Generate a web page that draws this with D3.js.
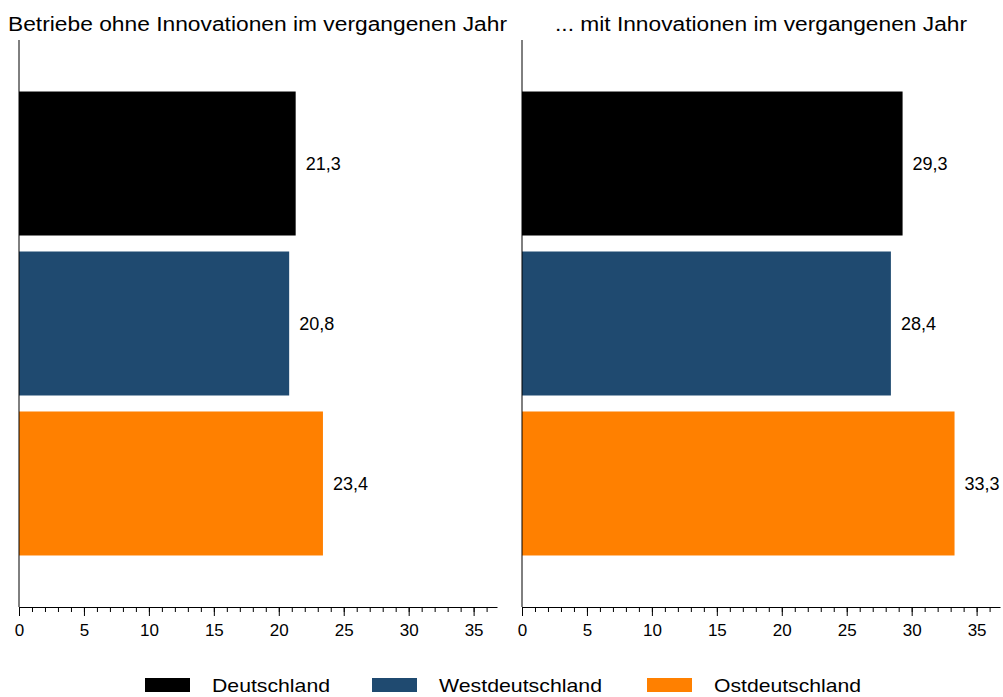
<!DOCTYPE html>
<html>
<head>
<meta charset="utf-8">
<script src="https://cdn.jsdelivr.net/npm/d3@7"></script>
<style>
	body { margin: 0; background: #fff; }
	text { font-family: "Liberation Sans", Arial, sans-serif; fill: #000; }
</style>
</head>
<body>
<div class="chart"></div>
<script>
var width = 1003;
var height = 697;

// data
var regions = ["Deutschland", "Westdeutschland", "Ostdeutschland"];
var colors = ["#000000", "#1f4a70", "#ff8000"];
var panelTitles = ["Betriebe ohne Innovationen im vergangenen Jahr", "... mit Innovationen im vergangenen Jahr"];
var ohneValues = [21.3, 20.8, 23.4];
var mitValues = [29.3, 28.4, 33.3];
var tickValues = [0, 5, 10, 15, 20, 25, 30, 35];

var panels = [
	{ title: panelTitles[0], values: ohneValues, x0: 19, x1: 497, titleX: 8, titleW: 499 },
	{ title: panelTitles[1], values: mitValues, x0: 522, x1: 1000, titleX: 555, titleW: 412 }
];

var svg = d3.select('.chart').append('svg')
	.attr('width', width)
	.attr('height', height);

var axisY = 607;
var y = d3.scaleBand()
	.domain(regions)
	.range([40, axisY])
	.paddingInner(0.1)
	.paddingOuter(0.322);

var fmt = function(v) { return d3.format(".1f")(v).replace(".", ","); };

panels.forEach(function(p) {
	var x = d3.scaleLinear().domain([0, 36.8]).range([p.x0, p.x1]);
	var g = svg.append('g');

	// title (reference font is wider, so stretch it)
	g.append('text')
		.attr('x', p.titleX)
		.attr('y', 31)
		.attr('font-size', 20)
		.attr('textLength', p.titleW)
		.attr('lengthAdjust', 'spacingAndGlyphs')
		.text(p.title);

	// bars
	g.selectAll('rect.bar').data(p.values).enter().append('rect')
		.attr('class', 'bar')
		.attr('x', x(0))
		.attr('y', (d, i) => y(regions[i]))
		.attr('width', d => x(d) - x(0))
		.attr('height', y.bandwidth())
		.attr('fill', (d, i) => colors[i]);

	g.selectAll('text.val').data(p.values).enter().append('text')
		.attr('class', 'val')
		.attr('x', d => x(d) + 10)
		.attr('y', (d, i) => y(regions[i]) + y.bandwidth() / 2)
		.attr('dy', '0.35em')
		.attr('font-size', 18)
		.text(fmt);

	// minor ticks
	var minor = g.append('g')
		.attr('transform', 'translate(0,' + axisY + ')')
		.call(d3.axisBottom(x).tickValues(d3.range(0, 37, 1)).tickSize(5).tickFormat(''));
	minor.select('.domain').remove();
	minor.selectAll('line').attr('stroke', '#000');

	// major ticks
	var major = g.append('g')
		.attr('transform', 'translate(0,' + axisY + ')')
		.call(d3.axisBottom(x).tickValues(tickValues).tickSize(9).tickSizeOuter(0).tickPadding(8));
	major.select('.domain').attr('stroke', '#000');
	major.selectAll('line').attr('stroke', '#000');
	major.selectAll('text').attr('font-size', 17).attr('font-family', '"Liberation Sans", Arial, sans-serif');

	// vertical axis line
	g.append('line')
		.attr('x1', x(0)).attr('x2', x(0))
		.attr('y1', 40).attr('y2', axisY)
		.attr('stroke', '#000');
});

// legend
var legendX = [145, 372, 647];
var legendW = [118, 163, 147];
var legend = svg.selectAll('g.legend').data(regions).enter().append('g')
	.attr('class', 'legend')
	.attr('transform', (d, i) => 'translate(' + legendX[i] + ',678)');
legend.append('rect')
	.attr('width', 45).attr('height', 14)
	.attr('fill', (d, i) => colors[i]);
legend.append('text')
	.attr('x', 67).attr('y', 7).attr('dy', '0.35em')
	.attr('font-size', 19)
	.attr('textLength', (d, i) => legendW[i])
	.attr('lengthAdjust', 'spacingAndGlyphs')
	.text(d => d);
</script>
</body>
</html>
